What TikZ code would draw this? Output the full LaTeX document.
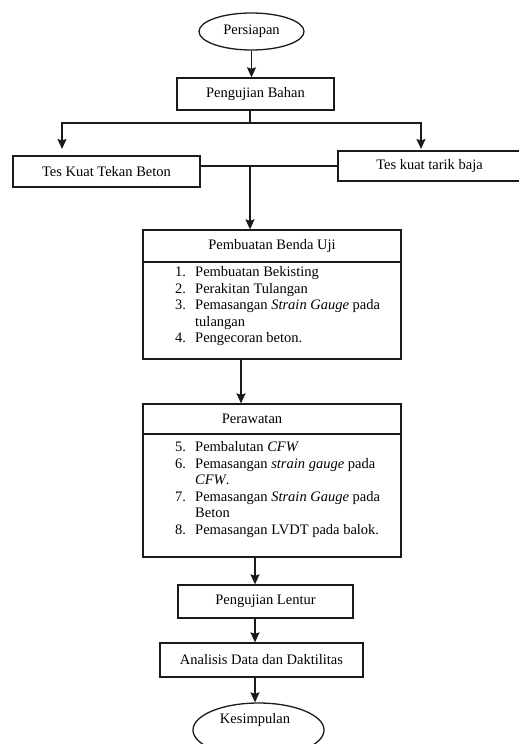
\documentclass[tikz,border=0pt]{standalone}
\usepackage{fontspec}
\setmainfont{Liberation Serif}
\usetikzlibrary{arrows.meta,shapes.geometric}
\definecolor{linie}{HTML}{1A1A1A}
\newcommand{\schrift}{\fontsize{14.5}{16.5}\selectfont}
\newcommand{\punkt}[2]{\makebox[20pt][l]{#1.}#2}
\newcommand{\weiter}[1]{\hspace*{20pt}#1}
\tikzset{pfeil/.style={linie,line width=1.3pt,
    -{Stealth[length=10pt,width=9pt,inset=1.5pt]}},
  linienzug/.style={linie,line width=1.3pt},
  kasten/.style={draw=linie,line width=1.3pt,rectangle,inner sep=0,font=\schrift},
  oval/.style={draw=linie,line width=1.3pt,ellipse,inner sep=0,font=\schrift},
  liste/.style={inner sep=0,align=left,font=\schrift,anchor=north west}}

\begin{document}
\begin{tikzpicture}[x=1pt,y=-1pt]
\useasboundingbox (0,0) rectangle (519,744);
% Kopf
\node[oval,minimum width=105,minimum height=37] (persiapan) at (251.5,31.5) {Persiapan};
\node[kasten,minimum width=157,minimum height=32] (bahan) at (255.5,94) {Pengujian Bahan};
\node[kasten,minimum width=187,minimum height=31] (tekan) at (106.5,171.5) {Tes Kuat Tekan Beton};
\node[kasten,minimum width=183,minimum height=30] (tarik) at (429.5,166) {Tes kuat tarik baja};
% Benda Uji
\node[kasten,minimum width=258,minimum height=32] (benda) at (272,246) {Pembuatan Benda Uji};
\node[kasten,minimum width=258,minimum height=97] (bendaisi) at (272,310.5) {};
\node[liste] (bendaliste) at (175,266.5) {\punkt{1}{Pembuatan Bekisting}\\
  \punkt{2}{Perakitan Tulangan}\\
  \punkt{3}{Pemasangan \textit{Strain Gauge} pada}\\
  \weiter{tulangan}\\
  \punkt{4}{Pengecoran beton.}};
% Perawatan
\node[kasten,minimum width=258,minimum height=30] (rawat) at (272,419) {Perawatan\hspace*{40pt}};
\node[kasten,minimum width=258,minimum height=123] (rawatisi) at (272,495.5) {};
\node[liste] (rawatliste) at (175,441.5) {\punkt{5}{Pembalutan \textit{CFW}}\\
  \punkt{6}{Pemasangan \textit{strain gauge} pada}\\
  \weiter{\textit{CFW}.}\\
  \punkt{7}{Pemasangan \textit{Strain Gauge} pada}\\
  \weiter{Beton}\\
  \punkt{8}{Pemasangan LVDT pada balok.}};
% Ende
\node[kasten,minimum width=175,minimum height=33] (lentur) at (265.5,601.5) {Pengujian Lentur};
\node[kasten,minimum width=203,minimum height=34] (analisis) at (261.5,660) {Analisis Data dan Daktilitas};
\node[oval,minimum width=131,minimum height=54] (schluss) at (258.5,730) {};
\node[inner sep=0,font=\schrift] (schlusstext) at (255,720) {Kesimpulan};

\coordinate (verteiler) at (250,123);
\coordinate (links) at (62,149);
\coordinate (rechts) at (421,149);
\coordinate (sammel) at (250,166);
\coordinate (achse) at (255,0);
\draw[pfeil] (persiapan.south) -- (persiapan.south |- bahan.north);
\draw[linienzug] (bahan.south -| verteiler) -- (verteiler);
\draw[pfeil] (verteiler) -| (links);
\draw[pfeil] (verteiler) -| (rechts);
\draw[linienzug] (tekan.east |- sammel) -- (tarik.west |- sammel);
\draw[pfeil] (sammel) -- (benda.north -| sammel);
\draw[pfeil] ([xshift=-31pt]bendaisi.south) -- ([xshift=-31pt]rawat.north);
\draw[pfeil] (rawatisi.south -| achse) -- (lentur.north -| achse);
\draw[pfeil] (lentur.south -| achse) -- (analisis.north -| achse);
\draw[pfeil] (analisis.south -| achse) -- (schluss.north -| achse);
\end{tikzpicture}
\end{document}
